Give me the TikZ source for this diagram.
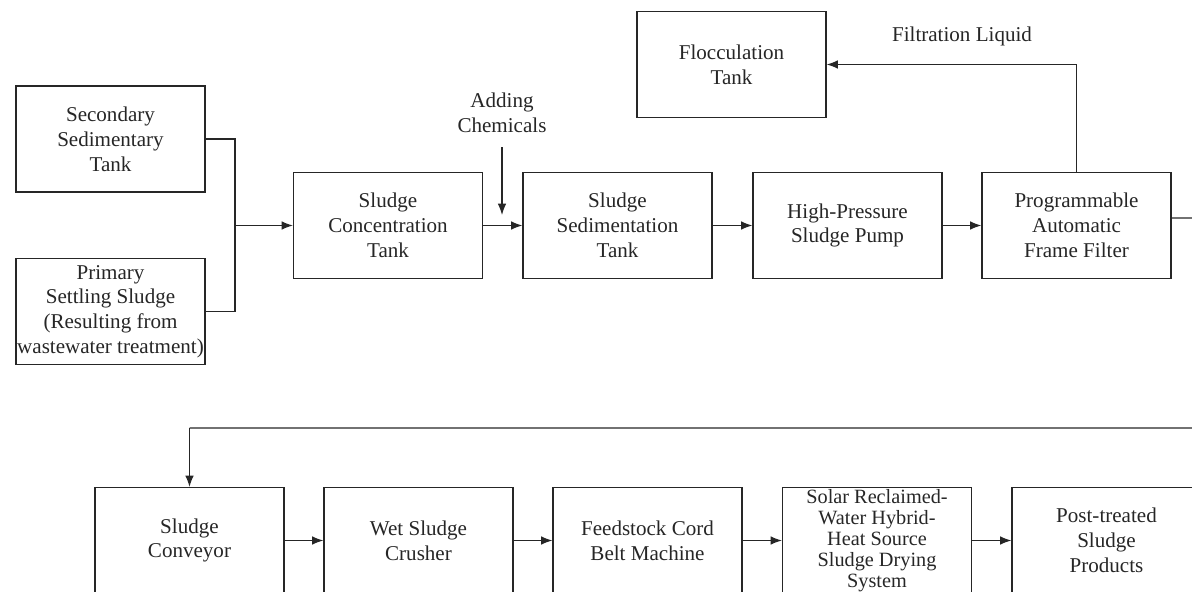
\documentclass[tikz,border=0pt]{standalone}
\usepackage{fontspec}
\setmainfont{Liberation Serif}
\usetikzlibrary{arrows.meta,positioning}

\begin{document}
\begin{tikzpicture}[x=0.75pt,y=-0.75pt,
  line width=0.9pt, draw=black!85,
  unit/.style={draw, rectangle, minimum width=141.75pt, minimum height=79.5pt,
    inner sep=0pt, align=center, font=\fontsize{15.8}{18.6}\selectfont, text=black!85},
  lbl/.style={align=center, inner sep=0pt, font=\fontsize{15.8}{18.6}\selectfont, text=black!85},
  flow/.style={-{Latex[length=8.5pt,width=6.5pt]}}]

\path[use as bounding box] (0,0) rectangle (1192,592);
\clip (0,0) rectangle (1192,592);

% upper row
\node[unit] (sec)   at (110.5,139)   {Secondary\\Sedimentary\\Tank};
\node[unit] (prim)  at (110.5,311.5) {Primary\\Settling Sludge\\(Resulting from\\wastewater treatment)};
\node[unit] (conc)  at (388,225.5)   {Sludge\\Concentration\\Tank};
\node[unit] (sed)   at (617.5,225.5) {Sludge\\Sedimentation\\Tank};
\node[unit] (pump)  at (847.5,225.5) {High-Pressure\\Sludge Pump};
\node[unit] (filt)  at (1076.5,225.5){Programmable\\Automatic\\Frame Filter};
\node[unit] (floc)  at (731.5,64.5)  {Flocculation\\Tank};

% lower row
\node[unit] (conv)  at (189.5,540.5) {Sludge\\Conveyor};
\node[unit] (crush) at (418.5,540.5) {Wet Sludge\\Crusher};
\node[unit] (belt)  at (647.5,540.5) {Feedstock Cord\\Belt Machine};
\node[unit, font=\fontsize{15.2}{15.8}\selectfont] (dry) at (877,540.5)
  {Solar Reclaimed-\\Water Hybrid-\\Heat Source\\Sludge Drying\\System};
\node[unit] (prod)  at (1106.5,540.5){Post-treated\\Sludge\\Products};

% labels
\node[lbl] (chem) at (502,113) {Adding\\Chemicals};
\node[lbl] (filtliq) at (962,36) {Filtration Liquid};

% routing points
\coordinate (join) at (235,225.5);
\coordinate (chemtop) at (502,147);
\coordinate (chemend) at (502,215);
\coordinate (rtop) at (1215,218);
\coordinate (rbot) at (1215,428);
\coordinate (lbot) at (189.5,428);

% connectors
\draw (sec.east) -| (join);
\draw (prim.east) -| (join);
\draw[flow] (join) -- (conc.west);
\draw[flow] (conc.east) -- (sed.west);
\draw[flow] (chemtop) -- (chemend);
\draw[flow] (sed.east) -- (pump.west);
\draw[flow] (pump.east) -- (filt.west);
\draw[flow] (filt.north) |- (floc.east);
\draw ([yshift=5.6pt]filt.east) -- (rtop) -- (rbot) -- (lbot);
\draw[flow] (lbot) -- (conv.north);
\draw[flow] (conv.east) -- (crush.west);
\draw[flow] (crush.east) -- (belt.west);
\draw[flow] (belt.east) -- (dry.west);
\draw[flow] (dry.east) -- (prod.west);
\end{tikzpicture}
\end{document}
